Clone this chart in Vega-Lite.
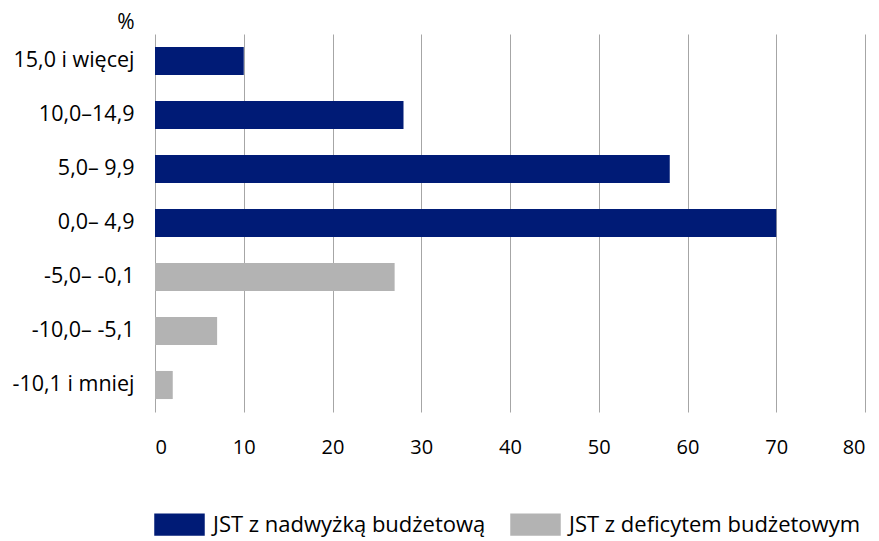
{
  "$schema": "https://vega.github.io/schema/vega-lite/v6.json",
  "autosize": {"type": "none"},
  "width": 710,
  "height": 378,
  "padding": {"left": 155, "top": 34, "right": 14, "bottom": 129},
  "background": "white",
  "config": {
    "font": "Open Sans",
    "view": {"stroke": null}
  },
  "data": {
    "values": [
      {"label": "15,0 i więcej", "value": 10, "group": "JST z nadwyżką budżetową"},
      {"label": "10,0–14,9", "value": 28, "group": "JST z nadwyżką budżetową"},
      {"label": "5,0– 9,9", "value": 58, "group": "JST z nadwyżką budżetową"},
      {"label": "0,0– 4,9", "value": 70, "group": "JST z nadwyżką budżetową"},
      {"label": "-5,0– -0,1", "value": 27, "group": "JST z deficytem budżetowym"},
      {"label": "-10,0– -5,1", "value": 7, "group": "JST z deficytem budżetowym"},
      {"label": "-10,1 i mniej", "value": 2, "group": "JST z deficytem budżetowym"}
    ]
  },
  "mark": {"type": "bar"},
  "encoding": {
    "y": {
      "field": "label",
      "type": "nominal",
      "sort": null,
      "scale": {"paddingInner": 0.48, "paddingOuter": 0.24},
      "axis": {
        "title": "%",
        "titleAngle": 0,
        "titleAlign": "right",
        "titleBaseline": "alphabetic",
        "titleX": -21,
        "titleY": -6,
        "titleFont": "Open Sans",
        "titleFontSize": 21,
        "titleFontWeight": "normal",
        "titleColor": "#000",
        "labelFont": "Open Sans",
        "labelFontSize": 21.5,
        "labelColor": "#000",
        "labelPadding": 21,
        "labelLimit": 200,
        "ticks": false,
        "domain": false,
        "grid": false
      }
    },
    "x": {
      "field": "value",
      "type": "quantitative",
      "scale": {"domain": [0, 80], "nice": false},
      "axis": {
        "title": null,
        "values": [0, 10, 20, 30, 40, 50, 60, 70, 80],
        "labelFont": "Open Sans",
        "labelFontSize": 20,
        "labelColor": "#000",
        "labelPadding": 25,
        "ticks": false,
        "domain": false,
        "grid": true,
        "gridColor": "#a6a6a6",
        "gridWidth": 1
      }
    },
    "color": {
      "field": "group",
      "type": "nominal",
      "scale": {
        "domain": ["JST z nadwyżką budżetową", "JST z deficytem budżetowym"],
        "range": ["#001b76", "#b3b3b3"]
      },
      "legend": {
        "title": null,
        "orient": "none",
        "direction": "horizontal",
        "legendX": -1,
        "legendY": 465,
        "symbolType": "M-1,-0.44H1V0.44H-1Z",
        "symbolSize": 2550,
        "symbolStrokeWidth": 0,
        "labelFont": "Open Sans",
        "labelFontSize": 22,
        "labelColor": "#000",
        "labelOffset": 8,
        "columnPadding": 24,
        "labelLimit": 400
      }
    }
  }
}
